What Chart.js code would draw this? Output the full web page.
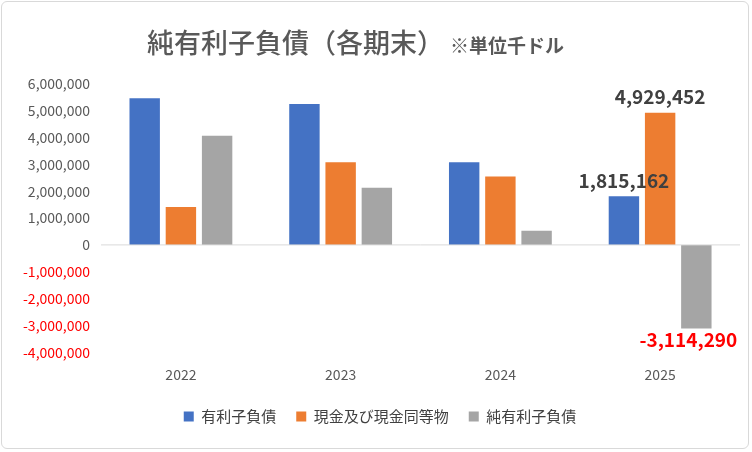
<!DOCTYPE html>
<html><head><meta charset="utf-8">
<script src="https://cdn.jsdelivr.net/npm/chart.js@4"></script>
<style>body{margin:0;background:#fff}#w{position:absolute;left:1px;top:1px;width:748px;height:448px;border:1px solid #d9d9d9;border-radius:6px;box-sizing:border-box}</style>
</head><body><div id="w"><canvas id="c"></canvas></div>
<script>
const categories=["2022","2023","2024","2025"];
const debt=[5470000,5250000,3080000,1815162];
const cash=[1410000,3080000,2550000,4929452];
const net=[4070000,2130000,530000,-3114290];
const F="'Noto Sans CJK JP','Noto Sans',sans-serif";
const titlePlugin={id:'t',afterDraw(ch){const c=ch.ctx;c.save();c.fillStyle='#595959';c.textBaseline='middle';
const a="純有利子負債（各期末）";const b="※単位千ドル";c.font="500 27px "+F;const wa=c.measureText(a).width;
let x=145;c.fillText(a,x,41);c.font="bold 19px "+F;c.fillText(b,x+wa+6,44);
ch.data.datasets.forEach((d,i)=>{const m=ch.getDatasetMeta(i).data[3];const v=d.data[3];c.font="bold 19px "+F;c.textAlign='center';
c.fillStyle=v<0?'#ff0000':'#404040';c.textBaseline=v<0?'top':'bottom';c.fillText(v.toLocaleString('en-US'),m.x+(i==2?-8:0),v<0?m.y+2:m.y-6);});
c.restore();}};
new Chart(document.getElementById('c'),{type:'bar',
data:{labels:categories,datasets:[
{label:'有利子負債',data:debt,backgroundColor:'#4472c4'},
{label:'現金及び現金同等物',data:cash,backgroundColor:'#ed7d31'},
{label:'純有利子負債',data:net,backgroundColor:'#a5a5a5'}]},
options:{responsive:true,maintainAspectRatio:false,animation:false,
layout:{padding:{top:82,left:18,right:8,bottom:14}},
datasets:{bar:{categoryPercentage:0.68,barPercentage:0.84}},
plugins:{legend:{position:'bottom',labels:{boxWidth:10,boxHeight:10,font:{size:15,family:F},color:'#404040',padding:20}},tooltip:{enabled:false}},
scales:{x:{grid:{display:false},border:{display:false},ticks:{padding:6,font:{size:14,family:F},color:'#595959'}},
y:{min:-4000000,max:6000000,ticks:{stepSize:1000000,font:{size:14,family:F},color:c=>c.tick.value<0?'#ff0000':'#595959',callback:v=>v.toLocaleString('en-US')},
grid:{display:false},border:{display:false}}}},
plugins:[titlePlugin,{id:'z',afterDatasetsDraw(ch){const c=ch.ctx,y=ch.scales.y.getPixelForValue(0),a=ch.chartArea;c.save();c.strokeStyle='#d9d9d9';c.beginPath();c.moveTo(a.left,y);c.lineTo(a.right,y);c.stroke();c.restore();}}]});
</script></body></html>
